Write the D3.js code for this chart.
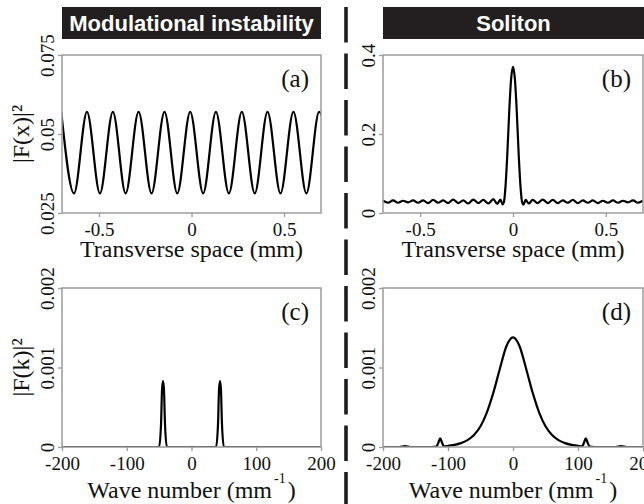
<!DOCTYPE html>
<html>
<head>
<meta charset="utf-8">
<script src="https://cdn.jsdelivr.net/npm/d3@7"></script>
<style>
  body { margin: 0; background: #fff; }
  svg { display: block; }
</style>
</head>
<body>
<div id="chart"></div>
<script>
// ---- values ----

// (a) modulational instability, |F(x)|^2 vs x (mm): peaks / troughs
const xA = [-0.704, -0.635, -0.565, -0.495, -0.425, -0.356, -0.286, -0.216, -0.146, -0.077,
            -0.007, 0.063, 0.132, 0.202, 0.272, 0.342, 0.411, 0.481, 0.551, 0.621, 0.690, 0.760];
const fxA = [0.057, 0.0312, 0.057, 0.0312, 0.057, 0.0312, 0.057, 0.0312, 0.057, 0.0312,
             0.057, 0.0312, 0.057, 0.0312, 0.057, 0.0312, 0.057, 0.0312, 0.057, 0.0312, 0.057, 0.0312];

// (b) soliton, |F(x)|^2 vs x (mm)
const xB = [-0.700, -0.673, -0.646, -0.619, -0.592, -0.565, -0.538, -0.511, -0.484, -0.457,
            -0.430, -0.403, -0.376, -0.349, -0.322, -0.295, -0.268, -0.241, -0.214, -0.187,
            -0.160, -0.133, -0.106, -0.085, -0.068, -0.056, -0.048, -0.040, -0.030, -0.020,
            -0.010, 0.000, 0.010, 0.020, 0.030, 0.040, 0.048, 0.056, 0.068, 0.085,
            0.106, 0.133, 0.160, 0.187, 0.214, 0.241, 0.268, 0.295, 0.322, 0.349,
            0.376, 0.403, 0.430, 0.457, 0.484, 0.511, 0.538, 0.565, 0.592, 0.619,
            0.646, 0.673, 0.700];
const fxB = [0.031, 0.026, 0.032, 0.026, 0.031, 0.027, 0.032, 0.026, 0.032, 0.025,
             0.033, 0.026, 0.032, 0.025, 0.034, 0.025, 0.032, 0.024, 0.034, 0.025,
             0.033, 0.024, 0.035, 0.023, 0.034, 0.022, 0.030, 0.070, 0.155, 0.260,
             0.340, 0.370, 0.340, 0.260, 0.155, 0.070, 0.030, 0.021, 0.033, 0.024,
             0.033, 0.025, 0.034, 0.025, 0.033, 0.025, 0.032, 0.026, 0.033, 0.025,
             0.032, 0.026, 0.032, 0.025, 0.031, 0.026, 0.032, 0.026, 0.031, 0.027,
             0.032, 0.026, 0.031];

// (c) modulational instability spectrum |F(k)|^2 vs k (mm^-1)
const kC = [-200, -50, -47, -45.5, -44, -42.5, -41, -38, 38, 41, 42.5, 44, 45.5, 47, 50, 200];
const fkC = [0, 0, 0.0003, 0.00072, 0.00083, 0.00072, 0.0003, 0, 0, 0.0003, 0.00072, 0.00083, 0.00072, 0.0003, 0, 0];

// (d) soliton spectrum
const kD = [-200, -175, -166, -158, -125, -118, -115, -112, -109, -106, -100, -90, -80, -70, -60,
            -50, -40, -30, -20, -10, 0, 10, 20, 30, 40, 50, 60, 70, 80, 90, 100,
            106, 109, 112, 115, 118, 125, 158, 166, 175, 200];
const fkD = [0, 0, 0.00001, 0, 0, 0.000005, 0.00005, 0.00011, 0.00005, 0.000005, 0.000015, 0.000027, 0.000049, 0.000087, 0.00015,
             0.00026, 0.00044, 0.00069, 0.00099, 0.00127, 0.00138, 0.00127, 0.00099, 0.00069, 0.00044, 0.00026, 0.00015, 0.000087, 0.000049, 0.000027, 0.000015,
             0.000005, 0.00005, 0.00011, 0.00005, 0.000005, 0, 0, 0.00001, 0, 0];

// ticks
const ticksXspace = [-0.5, 0, 0.5];
const ticksYa = [0.025, 0.05, 0.075];
const ticksYb = [0, 0.2, 0.4];
const ticksK = [-200, -100, 0, 100, 200];
const ticksYk = [0, 0.001, 0.002];

const titles = ['Modulational instability', 'Soliton'];

// ---- layout ----
const W = 644, H = 504;
const serif = "'Liberation Serif', 'Times New Roman', serif";
const sans = "'Liberation Sans', Arial, sans-serif";
const frameCol = '#9c9c9c';

const svg = d3.select('#chart').append('svg')
  .attr('width', W)
  .attr('height', H);

const defs = svg.append('defs');

const panels = [
  {id: 'a', x: xA, y: fxA, left: 62, top: 55, w: 259, h: 158,
   xdom: [-0.7, 0.7], ydom: [0.025, 0.075], xt: ticksXspace, yt: ticksYa,
   ylab: '|F(x)|²', xlab: 'space'},
  {id: 'b', x: xB, y: fxB, left: 383, top: 55, w: 260, h: 158,
   xdom: [-0.7, 0.7], ydom: [0, 0.4], xt: ticksXspace, yt: ticksYb,
   ylab: null, xlab: 'space'},
  {id: 'c', x: kC, y: fkC, left: 62, top: 288, w: 259, h: 159,
   xdom: [-200, 200], ydom: [0, 0.002], xt: ticksK, yt: ticksYk,
   ylab: '|F(k)|²', xlab: 'wave'},
  {id: 'd', x: kD, y: fkD, left: 383, top: 288, w: 260, h: 159,
   xdom: [-200, 200], ydom: [0, 0.002], xt: ticksK, yt: ticksYk,
   ylab: null, xlab: 'wave'}
];

function fmt(d) { return String(d); }

for (const p of panels) {
  const g = svg.append('g').attr('transform', `translate(${p.left},${p.top})`);
  const x = d3.scaleLinear().domain(p.xdom).range([0, p.w]);
  const y = d3.scaleLinear().domain(p.ydom).range([p.h, 0]);

  defs.append('clipPath').attr('id', 'clip' + p.id)
    .append('rect').attr('width', p.w).attr('height', p.h);

  // bottom axis
  const xa = g.append('g')
    .attr('transform', `translate(0,${p.h})`)
    .call(d3.axisBottom(x).tickValues(p.xt).tickSize(4).tickPadding(4).tickFormat(fmt));
  xa.select('.domain').remove();
  xa.selectAll('line').attr('stroke', frameCol).attr('stroke-width', 1.3);
  xa.selectAll('text')
    .attr('font-family', serif)
    .attr('font-size', 19)
    .attr('fill', '#111')
    .attr('dy', null)
    .attr('y', 23);

  // left axis with rotated labels
  const ya = g.append('g')
    .call(d3.axisLeft(y).tickValues(p.yt).tickSize(4).tickFormat(fmt));
  ya.select('.domain').remove();
  ya.selectAll('line').attr('stroke', frameCol).attr('stroke-width', 1.3);
  ya.selectAll('text')
    .attr('font-family', serif)
    .attr('font-size', 19)
    .attr('fill', '#111')
    .attr('x', null)
    .attr('dy', null)
    .attr('text-anchor', 'middle')
    .attr('transform', 'translate(-8,0) rotate(-90)');

  // the curve
  const line = d3.line()
    .x((d, i) => x(p.x[i]))
    .y(d => y(d))
    .curve(d3.curveMonotoneX);
  g.append('path')
    .datum(p.y)
    .attr('clip-path', `url(#clip${p.id})`)
    .attr('fill', 'none')
    .attr('stroke', '#000')
    .attr('stroke-width', 2.2)
    .attr('stroke-linejoin', 'round')
    .attr('d', line);

  // frame
  g.append('rect')
    .attr('width', p.w).attr('height', p.h)
    .attr('fill', 'none')
    .attr('stroke', frameCol)
    .attr('stroke-width', 1.5);

  // panel letter
  g.append('text')
    .attr('x', p.w - 12).attr('y', 32)
    .attr('text-anchor', 'end')
    .attr('font-family', serif)
    .attr('font-size', 25)
    .attr('fill', '#111')
    .text(`(${p.id})`);

  // x label
  const xl = g.append('text')
    .attr('x', p.w / 2)
    .attr('text-anchor', 'middle')
    .attr('font-family', serif)
    .attr('font-size', 24)
    .attr('fill', '#111');
  if (p.xlab === 'space') {
    xl.attr('y', p.h + 44).text('Transverse space (mm)');
  } else {
    xl.attr('y', p.h + 51);
    xl.append('tspan').text('Wave number (mm');
    xl.append('tspan').attr('font-size', 14).attr('dx', 2).attr('dy', -15).text('-1');
    xl.append('tspan').attr('dx', 2).attr('dy', 15).text(')');
  }

  // y label
  if (p.ylab) {
    g.append('text')
      .attr('transform', `translate(-33,${p.h / 2}) rotate(-90)`)
      .attr('text-anchor', 'middle')
      .attr('font-family', serif)
      .attr('font-size', 24)
      .attr('fill', '#111')
      .text(p.ylab);
  }
}

// title bars
const bars = [
  {left: 62, right: 321},
  {left: 383, right: 644}
];
bars.forEach((b, i) => {
  svg.append('rect')
    .attr('x', b.left).attr('y', 7)
    .attr('width', b.right - b.left).attr('height', 32)
    .attr('fill', '#231f20');
  svg.append('text')
    .attr('x', (b.left + b.right) / 2).attr('y', 31)
    .attr('text-anchor', 'middle')
    .attr('font-family', sans)
    .attr('font-weight', 'bold')
    .attr('font-size', 22)
    .attr('fill', '#fff')
    .text(titles[i]);
});

// dashed divider
svg.append('line')
  .attr('x1', 346).attr('x2', 346)
  .attr('y1', 7).attr('y2', H)
  .attr('stroke', '#1e1e1e')
  .attr('stroke-width', 3.6)
  .attr('stroke-dasharray', '35.5,11');
</script>
</body>
</html>
